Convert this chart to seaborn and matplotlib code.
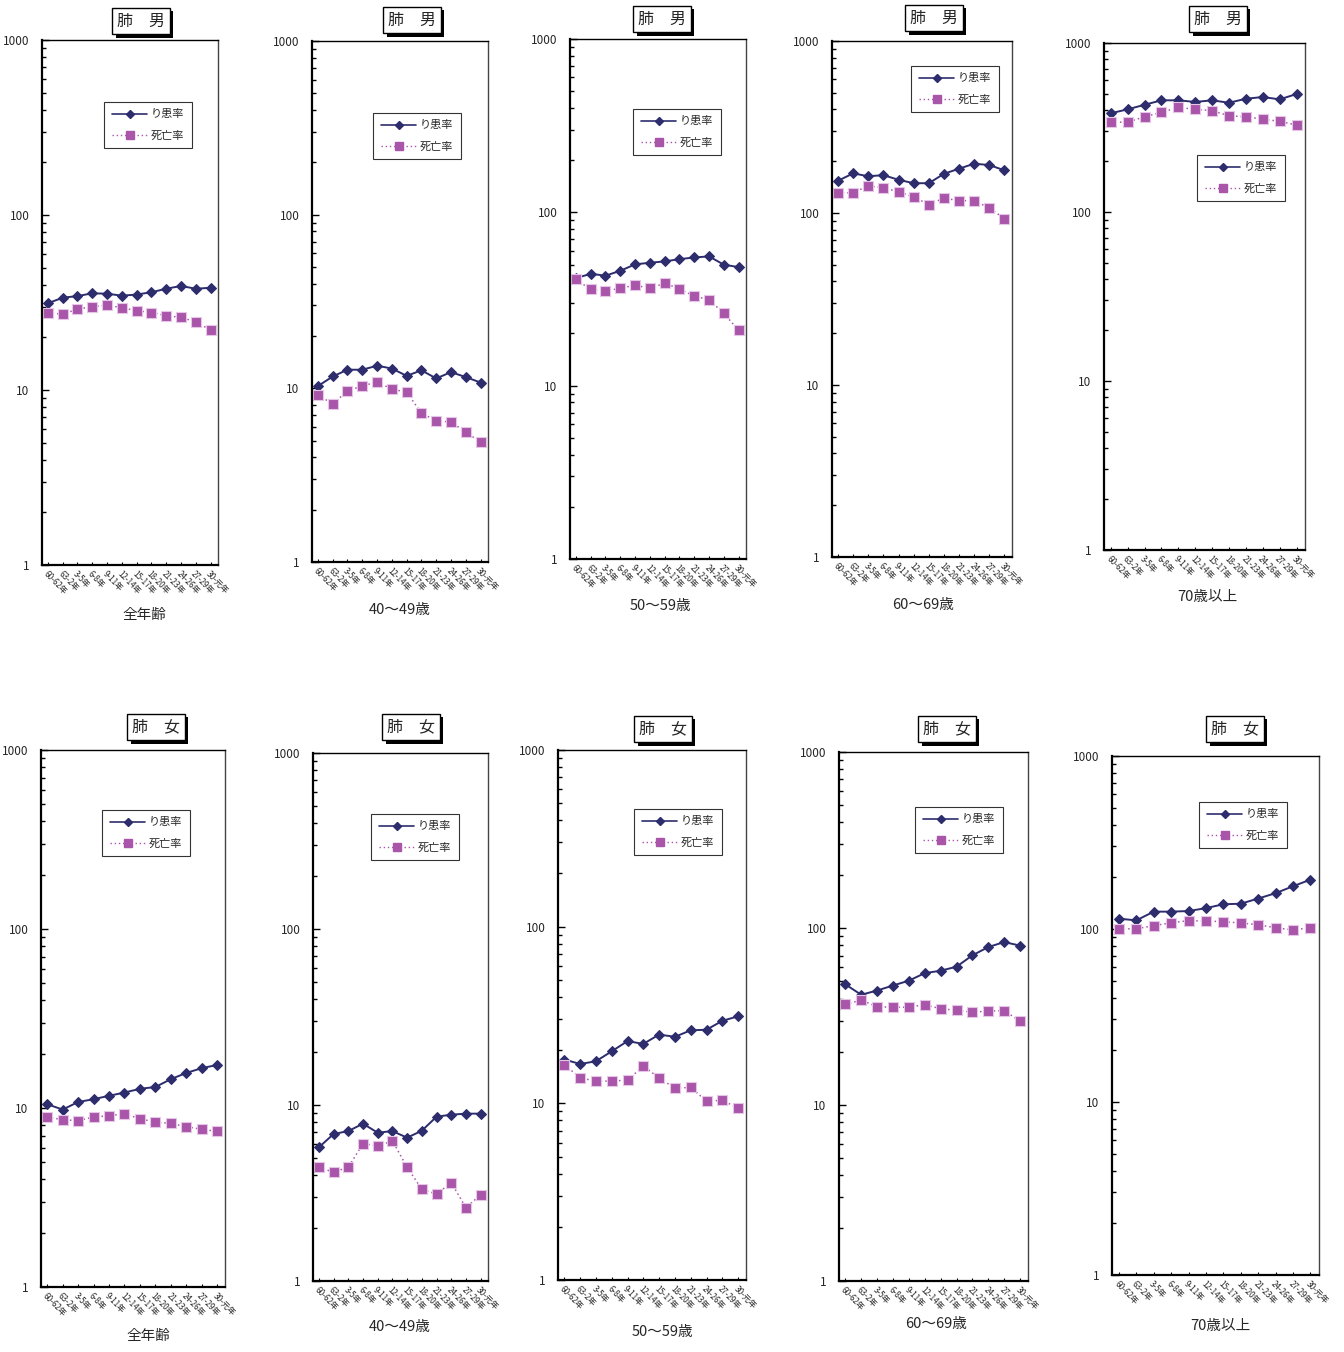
import numpy as np
import pandas as pd
import matplotlib
matplotlib.use("Agg")
import matplotlib.pyplot as plt
import matplotlib.ticker as mticker
import matplotlib.patheffects as pe
from matplotlib.lines import Line2D
import seaborn as sns

sns.set_theme(style="white")
plt.rcParams['font.family'] = ['Noto Sans CJK JP', 'DejaVu Sans']

periods = ["60-62年", "63-2年", "3-5年", "6-8年", "9-11年", "12-14年",
           "15-17年", "18-20年", "21-23年", "24-26年", "27-29年", "30-元年"]

# 肺 男 (male)
m_all_inc = [31.3, 33.7, 34.4, 35.7, 35.5, 34.6, 35.1, 36.2, 37.9, 39.3, 37.9, 38.4]
m_all_mort = [27.7, 27.1, 29.0, 29.9, 30.6, 29.5, 28.4, 27.7, 26.6, 26.0, 24.5, 22.0]
m_40_inc = [10.3, 11.7, 12.8, 12.8, 13.5, 13.0, 11.8, 12.7, 11.4, 12.4, 11.6, 10.8]
m_40_mort = [9.2, 8.1, 9.7, 10.3, 10.9, 9.9, 9.5, 7.2, 6.5, 6.4, 5.6, 4.9]
m_50_inc = [41.7, 44.2, 43.1, 46.0, 50.1, 51.2, 52.1, 53.7, 54.9, 55.7, 49.9, 48.3]
m_50_mort = [41.0, 35.9, 35.1, 36.5, 38.0, 36.4, 39.0, 36.2, 32.8, 31.4, 26.1, 20.9]
m_60_inc = [154, 170, 163.5, 166, 156, 149, 149, 169, 181, 193.5, 190, 177]
m_60_mort = [131, 131, 144, 140, 133, 124, 112, 122, 118, 118, 107, 92.7]
m_70_inc = [384, 405, 431, 458, 458, 448, 458, 443, 468, 479, 464, 499]
m_70_mort = [340, 340, 366, 389, 416, 405, 398, 371, 366, 354, 344, 327]

# 肺 女 (female)
f_all_inc = [10.5, 9.8, 10.8, 11.2, 11.7, 12.2, 12.8, 13.1, 14.5, 15.7, 16.7, 17.4]
f_all_mort = [8.9, 8.6, 8.5, 8.9, 9.05, 9.3, 8.7, 8.35, 8.2, 7.86, 7.6, 7.4]
f_40_inc = [5.75, 6.84, 7.11, 7.83, 6.96, 7.11, 6.52, 7.14, 8.58, 8.81, 8.93, 8.93]
f_40_mort = [4.43, 4.15, 4.43, 6.03, 5.85, 6.25, 4.43, 3.32, 3.12, 3.62, 2.61, 3.09]
f_50_inc = [17.7, 16.7, 17.3, 19.7, 22.5, 21.7, 24.5, 23.8, 25.9, 26.1, 29.3, 31.1]
f_50_mort = [16.5, 14.0, 13.3, 13.4, 13.5, 16.3, 13.9, 12.2, 12.3, 10.3, 10.4, 9.4]
f_60_inc = [48.1, 42.0, 44.4, 47.4, 50.5, 55.7, 57.5, 60.6, 70.3, 78.3, 83.6, 79.8]
f_60_mort = [37.0, 39.2, 35.9, 35.7, 35.7, 36.9, 35.0, 34.3, 33.5, 33.9, 34.2, 29.7]
f_70_inc = [114.7, 112.2, 126, 126, 127, 132, 139, 140, 150, 161, 176.6, 192.7]
f_70_mort = [100, 100.4, 104.5, 108.7, 111.7, 111.2, 110.2, 108.3, 105.9, 101.7, 98.7, 101.7]

age_labels = ["全年齢", "40～49歳", "50～59歳", "60～69歳", "70歳以上"]
series_labels = ["り患率", "死亡率"]
titles = ["肺　男", "肺　女"]

panels = [
    (m_all_inc, m_all_mort), (m_40_inc, m_40_mort), (m_50_inc, m_50_mort),
    (m_60_inc, m_60_mort), (m_70_inc, m_70_mort),
    (f_all_inc, f_all_mort), (f_40_inc, f_40_mort), (f_50_inc, f_50_mort),
    (f_60_inc, f_60_mort), (f_70_inc, f_70_mort),
]

W, H = 1344, 1352
# axes rectangles in pixels: left, top, right, bottom
rects = [
    (42, 40, 218, 565), (312, 41, 488, 562), (570, 39, 746, 559),
    (832, 41, 1012, 557), (1104, 43, 1305, 550),
    (41, 750, 225, 1287), (313, 753, 488, 1281), (558, 750, 746, 1280),
    (839, 752, 1028, 1281), (1112, 756, 1319, 1275),
]
# title box centers (pixels)
title_pos = [(141, 21), (412, 20), (662, 19), (934, 18), (1218, 19),
             (156, 727), (411, 727), (663, 729), (947, 729), (1235, 729)]
# age label centers
age_pos = [(144, 615), (400, 610), (660, 606), (923, 605), (1207, 597),
           (148, 1336), (400, 1327), (662, 1332), (936, 1324), (1220, 1326)]
# legend box centers
leg_pos = [(148, 125), (417, 136), (677, 132), (955, 89), (1241, 178),
           (146, 833), (415, 837), (678, 832), (959, 830), (1243, 825)]

INC_COLOR = "#2D2D6E"
MORT_COLOR = "#A955A9"

fig = plt.figure(figsize=(W / 100, H / 100), dpi=100)
fig.patch.set_facecolor("white")

x_idx = np.arange(len(periods))

for i, ((inc, mort), (l, t, r, b)) in enumerate(zip(panels, rects)):
    ax = fig.add_axes([l / W, 1 - b / H, (r - l) / W, (b - t) / H])
    df = pd.DataFrame({"x": np.concatenate([x_idx, x_idx]),
                       "y": list(inc) + list(mort),
                       "s": [series_labels[0]] * 12 + [series_labels[1]] * 12})
    sns.lineplot(data=df[df.s == series_labels[0]], x="x", y="y", ax=ax,
                 color=INC_COLOR, marker="D", markersize=5.5, linewidth=1.4,
                 markeredgecolor=INC_COLOR, legend=False)
    sns.lineplot(data=df[df.s == series_labels[1]], x="x", y="y", ax=ax,
                 color=MORT_COLOR, marker="s", markersize=7, linewidth=1.1,
                 linestyle=(0, (1, 2)), markeredgecolor="#E6C6E6",
                 markeredgewidth=0.8, legend=False)
    ax.set_yscale("log")
    ax.set_ylim(1, 1000)
    ax.set_xlim(-0.4, 11.5)
    ax.set_xlabel("")
    ax.set_ylabel("")
    ax.yaxis.set_major_locator(mticker.FixedLocator([1, 10, 100, 1000]))
    ax.yaxis.set_major_formatter(mticker.FixedFormatter(["1", "10", "100", "1000"]))
    ax.yaxis.set_minor_locator(mticker.LogLocator(base=10, subs=np.arange(2, 10)))
    ax.yaxis.set_minor_formatter(mticker.NullFormatter())
    ax.set_xticks(x_idx)
    ax.set_xticklabels(periods, rotation=-45, ha="left", va="top",
                       rotation_mode="anchor", fontsize=5.8)
    ax.tick_params(axis="y", which="both", left=True, right=False)
    ax.tick_params(axis="y", which="major", direction="in", length=5, width=1,
                   labelsize=8.5, pad=9, color="black")
    ax.tick_params(axis="y", which="minor", direction="in", length=3, width=1,
                   color="black")
    ax.tick_params(axis="x", which="major", direction="in", length=2.5, width=0.8,
                   pad=3, color="black", bottom=True)
    for sname, sp in ax.spines.items():
        sp.set_visible(True)
        sp.set_color("black")
        sp.set_linewidth(1.6 if sname in ("left", "bottom") else 1.0)
    ax.spines["right"].set_color("#444444")
    ax.grid(False)
    ax.set_facecolor("white")

    # title box with shadow
    tx, ty = title_pos[i]
    ttl = fig.text(tx / W, 1 - ty / H, titles[0] if i < 5 else titles[1],
                   ha="center", va="center", fontsize=11.5,
                   bbox=dict(boxstyle="square,pad=0.3", facecolor="white",
                             edgecolor="black", linewidth=1.0))
    ttl.get_bbox_patch().set_path_effects(
        [pe.SimplePatchShadow(offset=(2.5, -2.5), shadow_rgbFace="black", alpha=1.0),
         pe.Normal()])

    # age group label
    axp = age_pos[i]
    fig.text(axp[0] / W, 1 - axp[1] / H, age_labels[i % 5], ha="center",
             va="center", fontsize=10.5)

    # legend
    handles = [
        Line2D([], [], color=INC_COLOR, marker="D", markersize=4, linewidth=1.2),
        Line2D([], [], color=MORT_COLOR, marker="s", markersize=6, linewidth=1.0,
               linestyle=(0, (1, 2))),
    ]
    lx, ly = leg_pos[i]
    leg = ax.legend(handles, series_labels, loc="center",
                    bbox_to_anchor=(lx / W, 1 - ly / H),
                    bbox_transform=fig.transFigure, fontsize=8, frameon=True,
                    fancybox=False, edgecolor="black", handlelength=3.2,
                    numpoints=1, borderpad=0.7, labelspacing=1.0,
                    handletextpad=0.3)
    leg.get_frame().set_linewidth(0.8)

fig.savefig("out.png", dpi=100, facecolor="white")
